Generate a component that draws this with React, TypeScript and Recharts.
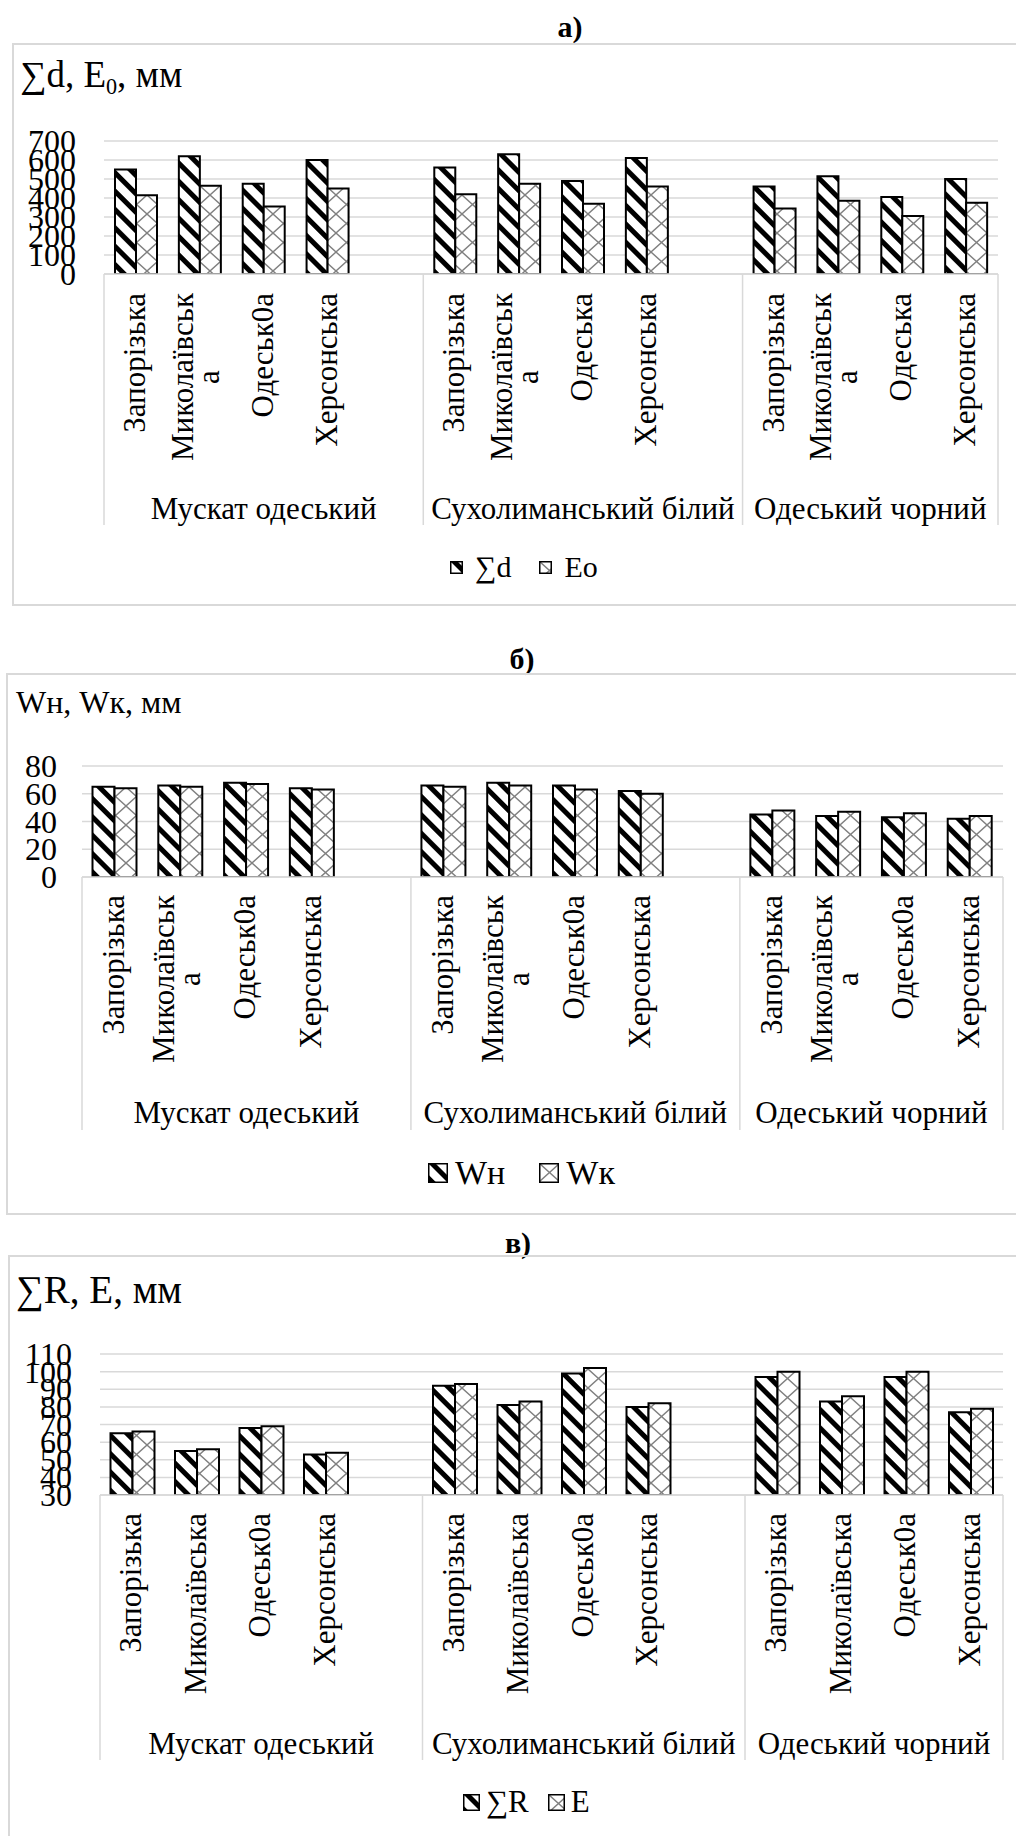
import React from "react";
import { BarChart, Bar, XAxis, YAxis, CartesianGrid, Legend } from "recharts";

const FONT = '"Liberation Serif", "Times New Roman", serif';
const GRID = "#d9d9d9";

const GROUPS = ["Мускат одеський", "Сухолиманський білий", "Одеський чорний"];
const GROUP_SIZES = [5, 5, 4];

// chart а)
const CATS_A = [
  "Запорізька", "Миколаївськ\nа", "Одеськ0а", "Херсонська", "",
  "Запорізька", "Миколаївськ\nа", "Одеська", "Херсонська", "",
  "Запорізька", "Миколаївськ\nа", "Одеська", "Херсонська",
];
const SUM_D = [550, 620, 475, 600, null, 560, 630, 490, 610, null, 460, 515, 405, 500];
const E_0 = [415, 465, 355, 450, null, 420, 475, 370, 460, null, 345, 385, 305, 375];
const TICKS_A = [0, 100, 200, 300, 400, 500, 600, 700];

// chart б)
const CATS_B = [
  "Запорізька", "Миколаївськ\nа", "Одеськ0а", "Херсонська", "",
  "Запорізька", "Миколаївськ\nа", "Одеськ0а", "Херсонська", "",
  "Запорізька", "Миколаївськ\nа", "Одеськ0а", "Херсонська",
];
const W_N = [65, 66, 68, 64, null, 66, 68, 66, 62, null, 45, 44, 43, 42];
const W_K = [64, 65, 67, 63, null, 65, 66, 63, 60, null, 48, 47, 46, 44];
const TICKS_B = [0, 20, 40, 60, 80];

// chart в)
const CATS_C = [
  "Запорізька", "Миколаївська", "Одеськ0а", "Херсонська", "",
  "Запорізька", "Миколаївська", "Одеськ0а", "Херсонська", "",
  "Запорізька", "Миколаївська", "Одеськ0а", "Херсонська",
];
const SUM_R = [65, 55, 68, 53, null, 92, 81, 99, 80, null, 97, 83, 97, 77];
const E_C = [66, 56, 69, 54, null, 93, 83, 102, 82, null, 100, 86, 100, 79];
const TICKS_C = [30, 40, 50, 60, 70, 80, 90, 100, 110];

const GROUP_STARTS = GROUP_SIZES.map((_, i) =>
  GROUP_SIZES.slice(0, i).reduce((a, b) => a + b, 0)
);

let measureCtx: CanvasRenderingContext2D | null = null;
function textWidth(s: string, size: number) {
  if (!measureCtx) measureCtx = document.createElement("canvas").getContext("2d");
  if (!measureCtx) return s.length * size * 0.5;
  measureCtx.font = `${size}px "Liberation Serif"`;
  return measureCtx.measureText(s).width;
}

function CategoryTick(props: any) {
  const { x, y, cfg } = props;
  const index = props.index ?? props.payload?.index ?? 0;
  const n = cfg.cats.length;
  const band = (cfg.plotRight - cfg.plotLeft) / n;
  const label: string = cfg.cats[index] || "";
  const lines = label ? label.split("\n") : [];
  const fs = cfg.catFont;
  const w0 = lines.length ? textWidth(lines[0], fs) : 0;
  const parts: any[] = [];

  lines.forEach((ln, i) => {
    // baseline offset to the right of the category centre (rotated text)
    const base =
      lines.length === 1
        ? cfg.baseShift
        : cfg.multiShift + (i - (lines.length - 1) / 2) * cfg.lineH;
    parts.push(
      <text
        key={"l" + i}
        transform={`translate(${x},${y}) rotate(-90)`}
        x={i === 0 ? -cfg.labelGap : -cfg.labelGap - w0 / 2}
        y={base}
        textAnchor={i === 0 ? "end" : "middle"}
        fontSize={fs}
        style={{ fontFamily: FONT }}
        fill="#000"
      >
        {ln}
      </text>
    );
  });

  const gi = GROUP_STARTS.indexOf(index);
  if (gi >= 0) {
    const left = x - band / 2;
    parts.push(
      <line key="sep" x1={left} x2={left} y1={y} y2={y + cfg.sepLen} stroke={GRID} strokeWidth={1.5} />
    );
    parts.push(
      <text
        key="grp"
        x={left + (GROUP_SIZES[gi] * band) / 2}
        y={y + cfg.groupBase}
        textAnchor="middle"
        fontSize={cfg.groupFont}
        style={{ fontFamily: FONT }}
        fill="#000"
      >
        {GROUPS[gi]}
      </text>
    );
  }
  if (index === n - 1) {
    const right = x + band / 2;
    parts.push(
      <line key="sepR" x1={right} x2={right} y1={y} y2={y + cfg.sepLen} stroke={GRID} strokeWidth={1.5} />
    );
  }
  return <g>{parts}</g>;
}

function Swatch({ size, fill }: { size: number; fill: string }) {
  return (
    <svg width={size} height={size} style={{ display: "block" }}>
      <rect x={0.75} y={0.75} width={size - 1.5} height={size - 1.5} fill={fill} stroke="#000" strokeWidth={1.5} />
    </svg>
  );
}

function Panel({ cfg }: { cfg: any }) {
  const rows = cfg.cats.map((c: string, i: number) => ({
    key: "k" + i,
    cat: c,
    s1: cfg.s1[i],
    s2: cfg.s2[i],
  }));
  const hatch = `hatch-${cfg.id}`;
  const cross = `cross-${cfg.id}`;
  const chartH = cfg.chartH;
  const axisY = cfg.plotBottom - cfg.boxTop;
  const margin = {
    top: cfg.plotTop - cfg.boxTop,
    left: cfg.plotLeft - cfg.yWidth,
    right: 1016 - cfg.plotRight,
    bottom: chartH - axisY - cfg.xHeight,
  };

  const legendContent = () => (
    <div style={{ display: "flex", alignItems: "center", fontFamily: FONT, fontSize: cfg.legendFont, lineHeight: "36px", color: "#000" }}>
      {cfg.legend.map((name: string, i: number) => (
        <div key={i} style={{ display: "flex", alignItems: "center", marginRight: i === 0 ? cfg.legendGap : 0 }}>
          <div style={{ marginRight: cfg.swGap }}>
            <Swatch size={cfg.sw} fill={`url(#${i === 0 ? hatch : cross})`} />
          </div>
          <span>{name}</span>
        </div>
      ))}
    </div>
  );

  return (
    <>
      <div
        style={{
          position: "absolute",
          left: cfg.titleX - 50,
          width: 100,
          top: cfg.titleY - 16,
          textAlign: "center",
          fontFamily: FONT,
          fontWeight: "bold",
          fontSize: 30,
          lineHeight: "32px",
        }}
      >
        {cfg.title}
      </div>
      <div
        style={{
          position: "absolute",
          left: cfg.boxLeft,
          top: cfg.boxTop,
          width: 1060,
          height: cfg.boxH,
          border: `2px solid ${GRID}`,
          boxSizing: "border-box",
        }}
      />
      <div
        style={{
          position: "absolute",
          left: cfg.yTitleX,
          top: cfg.yTitleY - 22,
          fontFamily: FONT,
          fontSize: cfg.yTitleFont,
          lineHeight: "44px",
          whiteSpace: "nowrap",
        }}
      >
        {cfg.yTitle}
      </div>
      <div style={{ position: "absolute", left: 0, top: cfg.boxTop, width: 1016, height: chartH }}>
        <BarChart
          width={1016}
          height={chartH}
          data={rows}
          margin={margin}
          barGap={0}
          barCategoryGap={cfg.catGap}
        >
          <defs>
            <pattern id={hatch} patternUnits="userSpaceOnUse" width="13" height="13" patternTransform="rotate(-45)">
              <rect width="13" height="13" fill="#fff" />
              <rect width="5" height="13" fill="#000" />
            </pattern>
            <pattern id={cross} patternUnits="userSpaceOnUse" width="21" height="19">
              <rect width="21" height="19" fill="#fff" />
              <path d="M0,0L21,19M21,0L0,19" stroke="#808080" strokeWidth="1.4" />
            </pattern>
          </defs>
          <CartesianGrid vertical={false} stroke={GRID} strokeWidth={1.5} />
          <XAxis
            dataKey="key"
            interval={0}
            height={cfg.xHeight}
            tickLine={false}
            tickSize={0}
            tickMargin={0}
            axisLine={{ stroke: GRID, strokeWidth: 1.5 }}
            tick={(p: any) => <CategoryTick {...p} cfg={cfg} />}
          />
          <YAxis
            width={cfg.yWidth}
            domain={cfg.domain}
            ticks={cfg.ticks}
            interval={0}
            axisLine={false}
            tickLine={false}
            allowDataOverflow
            tick={(p: any) => (
              <text
                x={cfg.tickRight}
                y={p.y}
                textAnchor="end"
                dominantBaseline="central"
                fontSize={32}
                style={{ fontFamily: FONT }}
                fill="#000"
              >
                {p.payload.value}
              </text>
            )}
          />
          <Legend
            verticalAlign="middle"
            align="center"
            layout="horizontal"
            wrapperStyle={{ left: cfg.legendLeft, top: cfg.legendTop, width: "auto", height: 36 }}
            content={legendContent}
          />
          <Bar dataKey="s1" fill={`url(#${hatch})`} stroke="#000" strokeWidth={2} isAnimationActive={false} />
          <Bar dataKey="s2" fill={`url(#${cross})`} stroke="#000" strokeWidth={2} isAnimationActive={false} />
        </BarChart>
      </div>
    </>
  );
}

const CFG_A = {
  id: "a",
  title: "а)",
  titleX: 570,
  titleY: 27,
  boxLeft: 12,
  boxTop: 43,
  boxH: 563,
  chartH: 563,
  plotLeft: 104,
  plotRight: 998,
  plotTop: 141,
  plotBottom: 274,
  yWidth: 80,
  xHeight: 262,
  tickRight: 76,
  domain: [0, 700],
  ticks: TICKS_A,
  cats: CATS_A,
  s1: SUM_D,
  s2: E_0,
  catGap: 11,
  catFont: 31,
  labelGap: 19,
  baseShift: 9,
  multiShift: 6,
  lineH: 26,
  groupFont: 31,
  groupBase: 245,
  sepLen: 251,
  yTitle: (
    <span>
      ∑d, E<span style={{ fontSize: "0.6em", verticalAlign: "-0.3em" }}>0</span>, мм
    </span>
  ),
  yTitleX: 20,
  yTitleY: 75,
  yTitleFont: 37,
  legend: ["∑d", "Eo"],
  legendFont: 30,
  legendLeft: 450,
  legendTop: 567 - 43 - 18,
  sw: 13,
  swGap: 12,
  legendGap: 28,
};

const CFG_B = {
  id: "b",
  title: "б)",
  titleX: 522,
  titleY: 659,
  boxLeft: 6,
  boxTop: 673,
  boxH: 542,
  chartH: 542,
  plotLeft: 82,
  plotRight: 1003,
  plotTop: 766,
  plotBottom: 877,
  yWidth: 60,
  xHeight: 262,
  tickRight: 57,
  domain: [0, 80],
  ticks: TICKS_B,
  cats: CATS_B,
  s1: W_N,
  s2: W_K,
  catGap: 10.5,
  catFont: 31,
  labelGap: 18,
  baseShift: 9,
  multiShift: 6,
  lineH: 26,
  groupFont: 31,
  groupBase: 246,
  sepLen: 253,
  yTitle: "Wн, Wк, мм",
  yTitleX: 16,
  yTitleY: 702,
  yTitleFont: 32,
  legend: ["Wн", "Wк"],
  legendFont: 34,
  legendLeft: 428,
  legendTop: 1173 - 673 - 18,
  sw: 20,
  swGap: 7,
  legendGap: 34,
};

const CFG_C = {
  id: "c",
  title: "в)",
  titleX: 518,
  titleY: 1243,
  boxLeft: 8,
  boxTop: 1255,
  boxH: 620,
  chartH: 581,
  plotLeft: 100,
  plotRight: 1003,
  plotTop: 1354,
  plotBottom: 1495,
  yWidth: 80,
  xHeight: 272,
  tickRight: 72,
  domain: [30, 110],
  ticks: TICKS_C,
  cats: CATS_C,
  s1: SUM_R,
  s2: E_C,
  catGap: 10.5,
  catFont: 31,
  labelGap: 18,
  baseShift: 9,
  multiShift: 6,
  lineH: 26,
  groupFont: 31,
  groupBase: 259,
  sepLen: 265,
  yTitle: "∑R, E, мм",
  yTitleX: 16,
  yTitleY: 1290,
  yTitleFont: 39,
  legend: ["∑R", "E"],
  legendFont: 31,
  legendLeft: 463,
  legendTop: 1802 - 1255 - 18,
  sw: 17,
  swGap: 6,
  legendGap: 19,
};

export default function App() {
  return (
    <div
      style={{
        position: "absolute",
        left: 0,
        top: 0,
        width: 1016,
        height: 1836,
        overflow: "hidden",
        background: "#fff",
        fontFamily: FONT,
      }}
    >
      <Panel cfg={CFG_A} />
      <Panel cfg={CFG_B} />
      <Panel cfg={CFG_C} />
    </div>
  );
}
